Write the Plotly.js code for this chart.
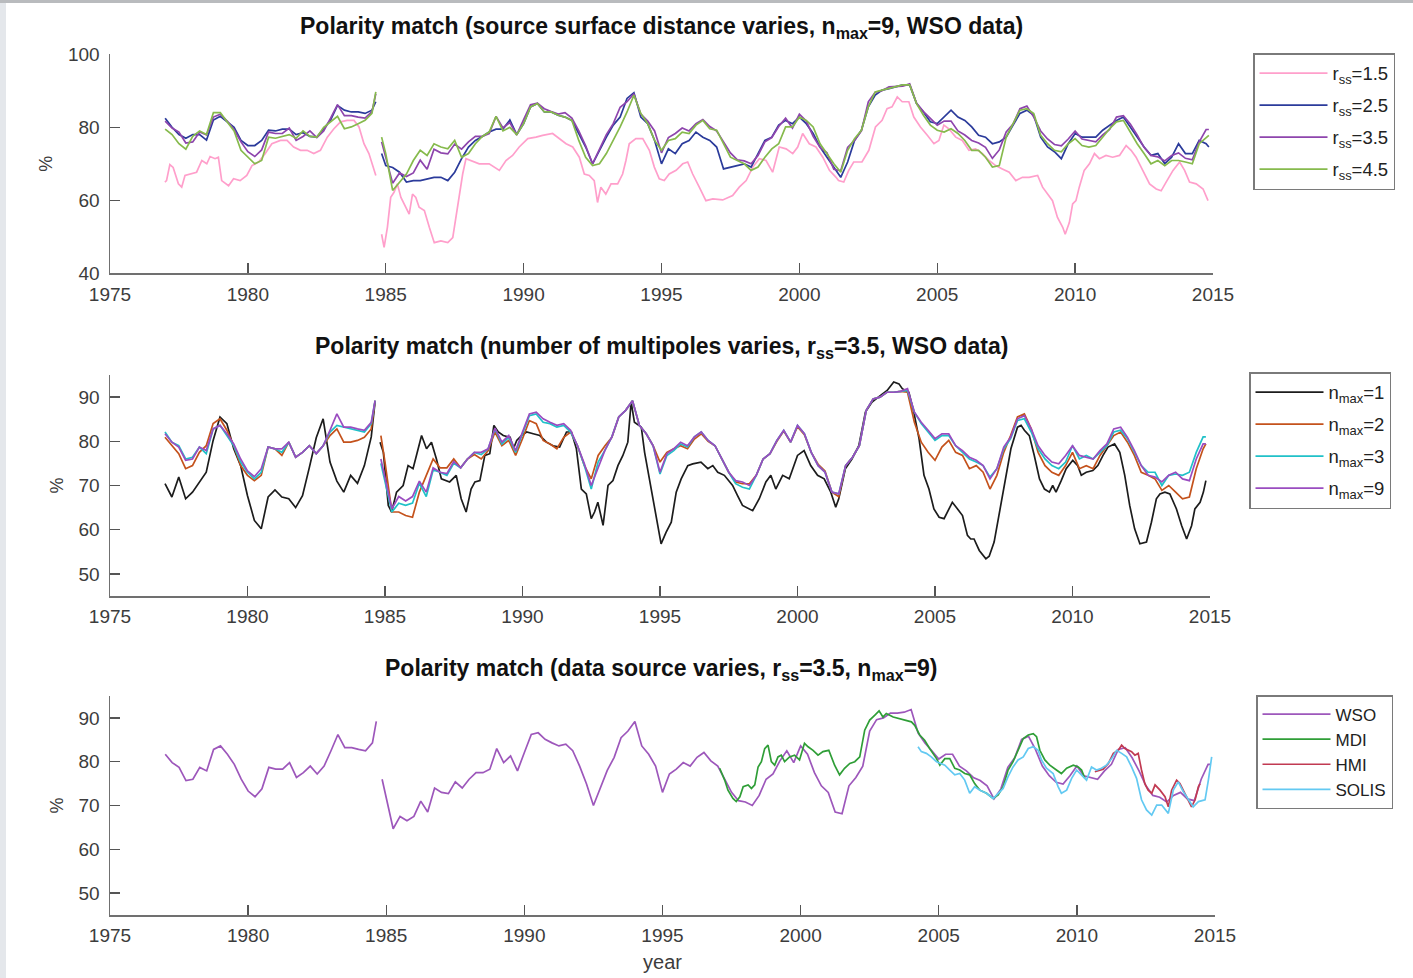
<!DOCTYPE html>
<html>
<head>
<meta charset="utf-8">
<script src="https://cdn.plot.ly/plotly-3.0.1.min.js"></script>
<style>
html,body{margin:0;padding:0;background:#fff;}
#chart{width:1413px;height:978px;}
</style>
</head>
<body>
<div id="chart"></div>
<script>
// ---------- shared quarterly time grid (WSO series) ----------
const YEARS = [
1977,1977.25,1977.5,1977.75, 1978,1978.25,1978.5,1978.75, 1979,1979.25,1979.5,1979.75,
1980,1980.25,1980.5,1980.75, 1981,1981.25,1981.5,1981.75, 1982,1982.25,1982.5,1982.75,
1983,1983.25,1983.5,1983.75, 1984,1984.25,1984.5,1984.64, null,
1984.85,
1985,1985.25,1985.5,1985.75, 1986,1986.25,1986.5,1986.75, 1987,1987.25,1987.5,1987.75,
1988,1988.25,1988.5,1988.75, 1989,1989.25,1989.5,1989.75, 1990,1990.25,1990.5,1990.75,
1991,1991.25,1991.5,1991.75, 1992,1992.25,1992.5,1992.75, 1993,1993.25,1993.5,1993.75,
1994,1994.25,1994.5,1994.75, 1995,1995.25,1995.5,1995.75, 1996,1996.25,1996.5,1996.75,
1997,1997.25,1997.5,1997.75, 1998,1998.25,1998.5,1998.75, 1999,1999.25,1999.5,1999.75,
2000,2000.25,2000.5,2000.75, 2001,2001.25,2001.5,2001.75, 2002,2002.25,2002.5,2002.75,
2003,2003.25,2003.5,2003.75, 2004,2004.25,2004.5,2004.75, 2005,2005.25,2005.5,2005.75,
2006,2006.25,2006.5,2006.75, 2007,2007.25,2007.5,2007.75, 2008,2008.25,2008.5,2008.75,
2009,2009.25,2009.5,2009.75, 2010,2010.25,2010.5,2010.75, 2011,2011.25,2011.5,2011.75,
2012,2012.25,2012.5,2012.75, 2013,2013.25,2013.5,2013.75, 2014,2014.25,2014.5,2014.75,
2014.85];

// WSO, r_ss=3.5, n_max=9 (same series in all three panels)
const WSO = [
81.7,79.8,78.7,75.7, 76,78.7,77.9,82.8, 83.6,81.7,79.4,76,
73.3,72,73.8,78.7, 78.3,78.3,79.8,76.4, 77.5,79,77.2,79,
82.5,86.2,83.2,83.2, 82.8,82.5,84.3,89.2, null,
76,
72,64.7,67.5,66.5, 67.5,71,68.5,74, 73,72.7,75.4,74,
76,77.5,77.5,78.3, 83,79.8,81.3,77.9, 82.1,86.2,86.6,85.1,
84.3,83.6,84,82.5, 79,74.9,70,74, 78,81,85.5,87,
89.2,83.6,81.7,79, 73,77.2,78.3,79.8, 79,81,82.1,80.2,
79,76,73,71.1, 70.8,70,72.3,76, 77.2,80.2,82.5,79.8,
83.6,81.7,77.5,74.5, 73,68.5,68.1,74.5, 76.4,79,87,89.6,
90,91.1,91.1,91.3, 91.9,86.6,84.3,82.5, 80.6,81.7,81.7,79,
77.9,76.4,75.7,74.5, 71.5,73.8,78.7,80.9, 85.1,85.8,82.8,79,
76.8,75.3,74.9,76.8, 79,76.8,76.4,76, 77.9,79.4,82.8,83.2,
80.9,77.9,74.5,72.3, 71.9,70.8,72.3,73, 71.5,71.1,76,79.4,
79.4];

// ---------- panel 1: source surface distance ----------
const RSS25 = [
82.5,80,78,77, 78,78,76.5,82, 83,81.5,80,76.4,
75,75,76.4,79.2, 79,79.5,79.5,78, 78.5,77.5,77.3,79.6,
82,86,84.7,84.2, 84.2,83.8,84.7,87, null,
72.8,
69.5,69,67.7,65, 65.4,65.4,65.9,66.3, 66.3,65.4,67.7,71.4,
74.6,76.4,77.5,78.7, 79.5,79.5,82,78, 81,85.6,86.5,84.2,
84.2,83.3,82.8,81.9, 78.3,74.6,70,73.7, 77.3,80.6,82.8,87.9,
89.5,82.8,81,76.4, 70,74.1,72.8,75.5, 76.4,78.7,77.3,76.4,
74.6,68.6,69.1,69.5, 70,69.1,72.8,76.4, 77.3,80.6,81.9,81,
82.8,81,78.3,74.6, 71.8,69.1,66.3,70.5, 76.4,79.2,85.6,88.8,
90.2,90.6,91.1,91.6, 91.6,86.5,84.2,81.5, 81,82.8,84.7,82.8,
81.9,80.1,77.8,77.3, 75.5,76,77.3,80.6, 83.8,84.7,83.3,77.3,
74.6,73.3,71.4,75.5, 78.3,77.3,77.3,77.3, 79.2,80.6,81.9,82.8,
80.1,77.3,74.6,72.3, 72.8,70,71.8,75.5, 72.8,72.8,76.4,75.5,
74.6];

const RSS45 = [
79.5,78,75.5,74, 77.5,79,78,84, 84,81.5,79,73.7,
71.8,70,70.9,77.3, 77,77.5,78,77, 79,77.5,77.3,80,
81.5,83,79.6,80.1, 81,81.9,83.8,89.7, null,
77.3,
72.8,62.7,65,67.2, 70.9,73.7,72.3,75.5, 74.6,74.1,76.4,71.8,
72.8,75.5,77.5,78.7, 83,79,80,78, 81,85.6,86.5,84.2,
84.2,83.3,82.8,81.9, 76.4,71.8,69.5,70, 72.8,76.4,80.1,84.2,
88.8,83.8,81,76.4, 73.7,76.4,76.9,78.7, 78.3,80.6,81.9,79.6,
79.2,75.5,71.8,70.9, 70,68.2,69.1,71.8, 74.1,75.5,80.1,80.1,
82.8,81.9,80.1,75.5, 72.8,70,67.7,73.7, 76.9,79.2,85.6,89.7,
90.2,90.6,91.1,91.6, 91.6,86.5,83.3,80.6, 79.2,78.7,79.6,78.3,
76.4,73.7,73.7,71.8, 69.1,69.5,77.3,81, 84.7,85.1,83.8,77.8,
75.5,73.7,73.3,75.5, 76.9,75,74.6,75, 77.3,79.6,81.5,81.9,
78.7,75.5,72.8,70, 70.9,69.5,70.9,70.9, 70.5,70,75.5,77.3,
77.8];

const RSS15_X = [
1976.99,1977.05,1977.17,1977.29,1977.48,1977.6,1977.72,1977.9,1978.14,1978.33,1978.51,1978.63,1978.81,1978.93,
1979.05,1979.3,1979.48,1979.72,1979.96,1980.15,1980.39,1980.63,1980.87,1981.18,1981.42,1981.66,1981.91,
1982.15,1982.39,1982.63,1982.88,1983.12,1983.36,1983.6,1983.85,1984.03,1984.21,1984.39,1984.51,1984.64, null,
1984.85,1984.94,1985.06,1985.18,1985.3,1985.42,1985.55,1985.73,1985.85,1985.97,1986.09,1986.21,1986.4,1986.58,
1986.76,1987,1987.25,1987.43,1987.61,1987.79,1987.91,1988.09,1988.39,1988.75,1989.12,1989.36,1989.6,1989.84,
1990.15,1990.45,1990.69,1991.05,1991.29,1991.54,1991.78,1992.02,1992.2,1992.38,1992.56,1992.68,1992.8,1992.98,
1993.17,1993.41,1993.59,1993.71,1993.83,1994.07,1994.32,1994.56,1994.74,1994.92,1995.1,1995.28,1995.53,1995.77,
1995.95,1996.13,1996.37,1996.61,1996.86,1997.22,1997.58,1997.82,1998.07,1998.31,1998.55,1998.79,1999.03,1999.27,
1999.52,1999.76,1999.94,2000.12,2000.36,2000.6,2000.85,2001.09,2001.33,2001.42,2001.61,2001.79,2001.97,2002.27,
2002.52,2002.76,2003,2003.18,2003.36,2003.55,2003.73,2003.97,2004.15,2004.39,2004.64,2004.88,2005.06,2005.24,
2005.42,2005.67,2005.91,2006.15,2006.39,2006.64,2006.88,2007.12,2007.36,2007.61,2007.85,2008.09,2008.33,2008.64,
2008.82,2009,2009.18,2009.36,2009.55,2009.64,2009.79,2009.91,2010.03,2010.15,2010.33,2010.52,2010.7,2010.88,
2011.12,2011.36,2011.61,2011.85,2012.03,2012.21,2012.45,2012.7,2012.94,2013.12,2013.3,2013.55,2013.79,2013.97,
2014.15,2014.39,2014.64,2014.82];
const RSS15 = [
65,65.4,69.8,69,64.5,63.6,66.8,67.2,67.7,70.9,70,72,71.4,71.8,
65.4,64,65.9,65.4,66.8,69.5,70.5,72.8,75.5,76.4,76.4,74.6,73.7,
73.7,72.8,73.7,77.3,79.6,81.5,81.9,81.9,80.1,75.5,72.8,70,66.8, null,
50.7,47.1,52.6,60.8,62.2,64.5,60.8,58.1,56.2,61.7,60.8,58.1,57.2,52.6,
48.4,48.9,48.4,49.8,58.1,67.2,71.4,70.9,70,70,68.2,70.9,72.3,74.6,
76.9,77.3,77.8,78.3,76.9,75.5,74.6,71.8,67.2,66.8,65.4,59.4,63.6,61.7,
64.5,64.5,67.2,70.9,75.5,76.9,76.9,73.7,69.1,65.9,65.4,67.2,68.2,70,
70.5,67.2,63.6,59.9,60.4,60.1,61.3,63.6,65.4,69.1,71.4,70.9,67.7,74.6,
74.1,72.8,74.6,78.3,75.5,74.6,71.8,68.2,66.3,65.4,65,68.2,70.5,70.5,
73.7,80.1,81.9,85.1,85.6,88.3,87,87,82.8,80.1,77.8,75.5,76.4,80.6,
79.6,77.3,76.4,73.7,74.1,72.8,70.9,69.5,68.6,67.7,65.4,66.3,66.3,66.8,
63.6,61.7,59.9,55.3,52.6,50.7,53.9,59,59.9,63.6,68.2,70,72.8,71.4,
72.3,71.8,72.3,75,73.7,71.8,68.2,64.5,63.1,62.6,65,68.2,70.5,68.2,
65,64.5,63.1,59.9];

// ---------- panel 2: number of multipoles ----------
const NM2 = [
80.9,79,77.2,73.8, 74.5,77.5,79,84, 85.1,82.5,79,74.5,
72.3,71.1,72.3,78.7, 78.3,76.8,79.8,76.4, 77.5,79,77.2,79,
81.3,82.8,79.8,79.8, 80.2,80.9,82.8,89.2, null,
81.3,
75.3,64,64,63.2, 62.8,68.5,72.3,76, 74,74,76,74,
76,77,76,77.9, 82.1,79,80.2,76.8, 80.6,84.7,84,80.2,
79.4,78.3,80.9,82.1, 79,74.5,71.5,76.8, 79,80.9,85.5,87,
89.2,83.6,81.7,79, 75.3,77.5,78.3,79, 78.3,80.5,81.7,80,
79,76,73,70.8, 70.4,70.4,72.3,76, 77.2,80,82.3,79.8,
83.3,81.5,77.5,74.8, 73.3,68.5,67.5,74.5, 76.4,79,87,89.6,
90,91.1,91.1,91.3, 91.1,84.3,79.8,77.5, 75.7,78.7,80.2,77.5,
76.8,73.8,74.5,73, 69.2,72.3,77.5,81.3, 85.5,86.2,82.8,77.5,
74.5,73,72.3,74.5, 77.5,73.8,74.5,73.8, 76.8,79,81.3,82.1,
79.8,76.8,73,72.3, 71.5,68.9,70,68.5, 67,67.4,73.8,78.3,
79.4];

const NM3 = [
82.1,79.8,79,76, 76.4,78.7,77.2,82.8, 83.6,81.3,79,75.3,
73,71.5,73,78.7, 78.3,77.5,79.8,76.4, 77.5,79,77.2,79,
82.1,83.6,83.2,82.8, 82.5,82.1,84,89.2, null,
75,
71,64,66,65.5, 66,70.5,67.5,73.5, 73,72.3,75,74,
76,77.5,77,78.3, 82.8,79.4,80.9,77.5, 81.7,85.8,86.2,84.3,
84,83.2,83.6,82.1, 79,74.5,69.2,75.3, 78,81,85.5,87,
89.2,83.6,81.7,79, 72.6,76.8,77.9,79.4, 78.7,81,82.1,80.2,
79,76,73,70.4, 69.6,69.2,72.3,76, 77.2,80.2,82.5,79.8,
83.6,81.7,77.5,74.5, 73,68.5,68.1,74.5, 76.4,79,87,89.6,
90,91.1,91.1,91.3, 91.5,86.6,84,82.1, 80.2,81.3,81.3,79,
77.5,76,75.3,74.5, 71.9,73.8,78.3,80.6, 84.7,85.1,82.1,78.3,
76,74.5,73.8,75.3, 79,76,76.8,76, 77.5,79,82.1,82.5,
80.6,77.5,74.5,73, 73,70,72.3,72.6, 72.3,73,77.5,81,
81];

const NM1_X = [
1977,1977.25,1977.5,1977.75,1978,1978.25,1978.5,1978.75,1979,1979.25,1979.5,1979.75,
1980,1980.25,1980.5,1980.75,1981,1981.25,1981.5,1981.75,1982,1982.25,1982.5,1982.75,
1983,1983.25,1983.5,1983.75,1984,1984.25,1984.5,1984.64, null,
1984.82,1984.94,1985.12,1985.24,1985.42,1985.66,1985.84,1986.02,1986.33,1986.51,1986.69,1986.87,
1987.05,1987.35,1987.59,1987.77,1987.95,1988.13,1988.27,1988.45,1988.63,1988.81,1988.96,1989.12,
1989.3,1989.55,1989.67,1989.79,1989.96,1990.15,1990.39,1990.63,1990.87,1991.11,1991.35,1991.6,
1991.78,1991.96,1992.14,1992.32,1992.5,1992.62,1992.74,1992.93,1993.11,1993.29,1993.47,1993.65,
1993.83,1993.95,1994.07,1994.32,1994.44,1994.68,1994.92,1995.04,1995.22,1995.41,1995.59,1995.77,
1996.01,1996.19,1996.49,1996.74,1996.92,1997.1,1997.34,1997.64,1997.82,1998,1998.37,1998.61,
1998.85,1999.03,1999.21,1999.46,1999.7,2000,2000.24,2000.48,2000.73,2000.97,2001.21,2001.39,
2001.5,2001.74,2001.98,2002.23,2002.47,2002.71,2003.02,2003.26,2003.5,2003.69,2003.81,2004.05,
2004.23,2004.42,2004.6,2004.78,2004.96,2005.15,2005.33,2005.51,2005.63,2005.82,2006,2006.18,
2006.3,2006.42,2006.61,2006.85,2006.97,2007.15,2007.34,2007.58,2007.76,2008,2008.13,2008.25,
2008.43,2008.61,2008.8,2008.98,2009.16,2009.28,2009.4,2009.59,2009.77,2010.01,2010.19,2010.32,
2010.5,2010.74,2010.92,2011.11,2011.29,2011.53,2011.72,2011.9,2012.08,2012.26,2012.45,2012.69,
2012.87,2013.05,2013.18,2013.36,2013.54,2013.78,2013.97,2014.15,2014.33,2014.45,2014.64,2014.76,
2014.85];
const NM1 = [
70.4,67.4,71.9,67,68.5,70.8,73,80.2,85.5,84,78.3,74.5,
67.7,62.1,60.2,67.4,69,67.4,67,65,67.7,74.1,80.8,85.1,
75.3,71,68.5,72.3,70.5,74.5,81,89, null,
79.8,77.5,65.5,64,68.5,70,74.5,73.8,81.3,78.3,79.8,76,
71.5,70.8,72.3,67,64,69.2,70.8,71.1,76.8,77.2,83.6,82.1,
81.3,80.9,78.3,80.2,81.3,82.1,81.7,81.3,79.8,79,78.7,82.1,
82.1,78.3,69.2,68.1,62.5,64,66.2,61,70,71.1,74.5,76.8,
79.8,88.9,84.3,83.2,77.5,69.2,60.2,56.8,59.4,61.7,68.5,71.5,
74.5,74.9,75.3,73.8,74.5,73,72.3,70,67.7,65.5,64.3,67,
70.8,72.3,69.2,72.3,71.5,76.8,77.9,74.5,72.3,71.5,68.5,65.1,
67,73.8,76,79,86.6,88.9,90.4,91.5,93.4,93,91.9,91.1,
86.6,80.6,72.3,69.2,64.7,62.8,62.5,64.7,66.2,64.7,63.2,58.7,
57.9,57.9,55.3,53.4,54,57.2,64,72.3,78.3,83.2,83.6,82.5,
81.3,76.8,71.5,69.2,68.5,70,68.5,71.1,73.8,75.7,74.5,72.3,
73,73.4,74.5,76.8,78.7,79.4,77.5,72.3,65.5,60.2,56.8,57.2,
61.7,67,68.1,68.5,68.1,64.7,60.9,57.9,60.9,64.7,66.2,68.5,
71.1];

// ---------- panel 3: data source ----------
const MDI_X = [
1997.07,1997.25,1997.37,1997.55,1997.67,1997.8,1997.92,1998.1,1998.22,1998.34,1998.46,1998.58,1998.7,1998.82,
1998.94,1999.06,1999.18,1999.3,1999.42,1999.6,1999.78,1999.96,2000.14,2000.27,2000.45,2000.63,2000.81,2001.02,
2001.23,2001.41,2001.59,2001.78,2001.96,2002.14,2002.32,2002.5,2002.68,2002.84,2002.98,2003.1,2003.35,2003.59,
2003.83,2004.01,2004.13,2004.31,2004.49,2004.67,2004.92,2005.04,2005.22,2005.4,2005.58,2005.76,2005.94,2006.12,
2006.3,2006.49,2006.73,2006.97,2007.15,2007.33,2007.51,2007.69,2007.87,2008.06,2008.24,2008.42,2008.54,2008.66,
2008.84,2009.02,2009.26,2009.44,2009.63,2009.87,2010.05,2010.17,2010.29];
const MDI = [
78.5,75.8,73.5,71.6,70.9,72,74.3,74.7,73.9,74.7,78.8,80,83,83.8,
80,79.2,81.1,81.5,80,81.1,81.5,80.4,84.2,83.4,82.6,81.5,82.3,82.6,
79.2,77,78.5,79.6,80,81.1,87.2,89.5,90.6,91.6,90.2,91,90.2,89.8,
89.5,89.1,88.3,86.1,84.9,83,80.7,79.2,80.7,80.7,78.5,78.1,77.3,77,
75,73.5,72.8,71.6,72.4,74.3,78.1,80,82.6,85.3,86.1,86.4,85.7,82.6,
80.4,79.2,78.1,77.3,78.5,79.2,78.8,78.1,76.2];

const HMI_X = [
2010.65,2010.95,2011.14,2011.32,2011.5,2011.62,2011.74,2011.86,2011.98,2012.1,2012.22,2012.34,2012.46,
2012.58,2012.71,2012.83,2013.01,2013.19,2013.31,2013.43,2013.61,2013.73,2013.85,2014.03,2014.15,2014.28,
2014.4,2014.46];
const HMI = [
77.7,78.3,79.6,81.9,82.6,83.8,83,82.6,82.3,81.5,81.9,78.1,75,
73.5,72.8,74.7,73.5,72,69.7,73.5,75.8,75,73.5,71.3,69.7,71.3,
74.3,75];

const SOLIS_X = [
2004.25,2004.37,2004.55,2004.73,2004.92,2005.22,2005.4,2005.58,2005.76,2005.94,2006.12,2006.3,2006.49,2006.73,
2006.97,2007.15,2007.33,2007.51,2007.69,2007.87,2008.06,2008.24,2008.42,2008.6,2008.72,2008.9,2009.14,2009.32,
2009.44,2009.63,2009.81,2009.99,2010.17,2010.35,2010.53,2010.71,2010.89,2011.07,2011.26,2011.44,2011.62,2011.8,
2011.98,2012.16,2012.34,2012.52,2012.71,2012.89,2013.07,2013.31,2013.49,2013.67,2013.85,2014.03,2014.21,2014.4,
2014.64,2014.76,2014.88];
const SOLIS = [
83.4,82.3,81.9,81.1,80,79.2,78.1,77,77.3,75.8,72.8,74.3,73.5,72.8,
71.6,72.8,73.9,76.6,78.8,80.4,81.1,83,83.4,82.6,80.4,78.5,77.3,74.3,
72.8,73.5,76.2,78.1,77,75.8,78.8,78.1,78.5,79.2,80.7,82.6,81.9,81.1,
78.8,76.2,71.3,69,67.8,70.1,70.1,68.2,73.5,75.4,73.2,71.3,69.7,70.9,
71.3,75.8,81.1];

// ---------- labels ----------
const X_TICKS = [1975,1980,1985,1990,1995,2000,2005,2010,2015];
const Y1_TICKS = [40,60,80,100];
const Y23_TICKS = [50,60,70,80,90];
const TITLES = [
  'Polarity match (source surface distance varies, n<sub>max</sub>=9, WSO data)',
  'Polarity match (number of multipoles varies, r<sub>ss</sub>=3.5, WSO data)',
  'Polarity match (data source varies, r<sub>ss</sub>=3.5, n<sub>max</sub>=9)'
];
const NAMES1 = ['r<sub>ss</sub>=1.5','r<sub>ss</sub>=2.5','r<sub>ss</sub>=3.5','r<sub>ss</sub>=4.5'];
const NAMES2 = ['n<sub>max</sub>=1','n<sub>max</sub>=2','n<sub>max</sub>=3','n<sub>max</sub>=9'];
const NAMES3 = ['WSO','MDI','HMI','SOLIS'];

// ---------- build ----------
const W = 1413, H = 978;
const FONT = 'Liberation Sans, Arial, Helvetica, sans-serif';
const px = v => v / W;
const py = v => 1 - v / H;

function tr(x, y, name, color, xa, ya, leg) {
  return {x: x, y: y, name: name, type: 'scatter', mode: 'lines',
    line: {color: color, width: 1.7}, xaxis: xa, yaxis: ya, legend: leg,
    legendgroup: leg + name, connectgaps: false, hoverinfo: 'skip'};
}

const data = [
  tr(RSS15_X, RSS15, NAMES1[0], '#ff9fcb', 'x', 'y', 'legend'),
  tr(YEARS, RSS25, NAMES1[1], '#2b3b9b', 'x', 'y', 'legend'),
  tr(YEARS, WSO,   NAMES1[2], '#8e45ad', 'x', 'y', 'legend'),
  tr(YEARS, RSS45, NAMES1[3], '#86ba4c', 'x', 'y', 'legend'),

  tr(NM1_X, NM1, NAMES2[0], '#1c1c1c', 'x2', 'y2', 'legend2'),
  tr(YEARS, NM2, NAMES2[1], '#c4521c', 'x2', 'y2', 'legend2'),
  tr(YEARS, NM3, NAMES2[2], '#20c1c8', 'x2', 'y2', 'legend2'),
  tr(YEARS, WSO, NAMES2[3], '#9a4cc0', 'x2', 'y2', 'legend2'),

  tr(YEARS, WSO,   NAMES3[0], '#9d57bb', 'x3', 'y3', 'legend3'),
  tr(MDI_X, MDI,   NAMES3[1], '#2f9e37', 'x3', 'y3', 'legend3'),
  tr(HMI_X, HMI,   NAMES3[2], '#c13a52', 'x3', 'y3', 'legend3'),
  tr(SOLIS_X, SOLIS, NAMES3[3], '#63c9f2', 'x3', 'y3', 'legend3')
];

const axBase = {
  showline: true, linecolor: '#707070', linewidth: 1.5,
  ticks: 'inside', ticklen: 10, tickwidth: 1.3, tickcolor: '#555',
  showgrid: false, zeroline: false, fixedrange: true,
  tickfont: {family: FONT, size: 19, color: '#3c3c3c'}
};
function xax(l, r, t) {
  return Object.assign({}, axBase, {domain: [px(l), px(r)], range: [1975, 2015],
    tickvals: X_TICKS, ticktext: X_TICKS.map(String), ticklabelstandoff: 3,
    title: t ? {text: t, font: {family: FONT, size: 20, color: '#3c3c3c'}, standoff: 9} : {text: ''}});
}
function yax(top, bot, rng, ticks) {
  return Object.assign({}, axBase, {domain: [py(bot), py(top)], range: rng,
    tickvals: ticks, ticktext: ticks.map(String), ticklabelstandoff: 5,
    title: {text: '%', font: {family: FONT, size: 18, color: '#3c3c3c'}, standoff: 10}});
}
function legendBox(l, t, gap, fs, ew) {
  return {x: px(l), y: py(t), xanchor: 'left', yanchor: 'top',
    bgcolor: '#ffffff', bordercolor: '#7a7a7a', borderwidth: 1.5,
    font: {family: FONT, size: fs, color: '#222'}, itemwidth: 68,
    entrywidth: ew, entrywidthmode: 'pixels',
    tracegroupgap: gap, itemclick: false, itemdoubleclick: false};
}
function titleAnn(text, y) {
  return {text: '<b>' + text + '</b>', xref: 'paper', yref: 'paper', x: px(661.5), y: py(y),
    xanchor: 'center', yanchor: 'top', showarrow: false,
    font: {family: FONT, size: 23, color: '#111'}};
}

const layout = {
  width: W, height: H, autosize: false,
  margin: {l: 0, r: 0, t: 0, b: 0, pad: 0},
  paper_bgcolor: '#ffffff', plot_bgcolor: '#ffffff',
  showlegend: true,
  xaxis:  xax(110, 1213, ''), yaxis:  yax(54.3, 273.3, [40, 100], Y1_TICKS),
  xaxis2: xax(110, 1210, ''), yaxis2: yax(375, 596, [45, 95], Y23_TICKS),
  xaxis3: xax(110, 1215, 'year'), yaxis3: yax(696, 915, [45, 95], Y23_TICKS),
  legend:  legendBox(1253, 53, 5, 18.5, 64),
  legend2: legendBox(1249, 372, 5, 18.5, 74),
  legend3: legendBox(1256, 695, 0, 17, 62),
  annotations: [titleAnn(TITLES[0], 11), titleAnn(TITLES[1], 331.5), titleAnn(TITLES[2], 652.5)],
  shapes: [
    {type: 'rect', xref: 'paper', yref: 'paper', x0: 0, x1: 1, y0: py(3), y1: 1,
     fillcolor: '#b9bbbe', line: {width: 0}, layer: 'above'},
    {type: 'rect', xref: 'paper', yref: 'paper', x0: 0, x1: px(6), y0: 0, y1: 1,
     fillcolor: '#e4e7eb', line: {width: 0}, layer: 'below'}
  ]
};
layout.yaxis.anchor = 'x'; layout.xaxis.anchor = 'y';
layout.yaxis2.anchor = 'x2'; layout.xaxis2.anchor = 'y2';
layout.yaxis3.anchor = 'x3'; layout.xaxis3.anchor = 'y3';

Plotly.newPlot('chart', data, layout, {displayModeBar: false, staticPlot: true});
</script>
</body>
</html>
